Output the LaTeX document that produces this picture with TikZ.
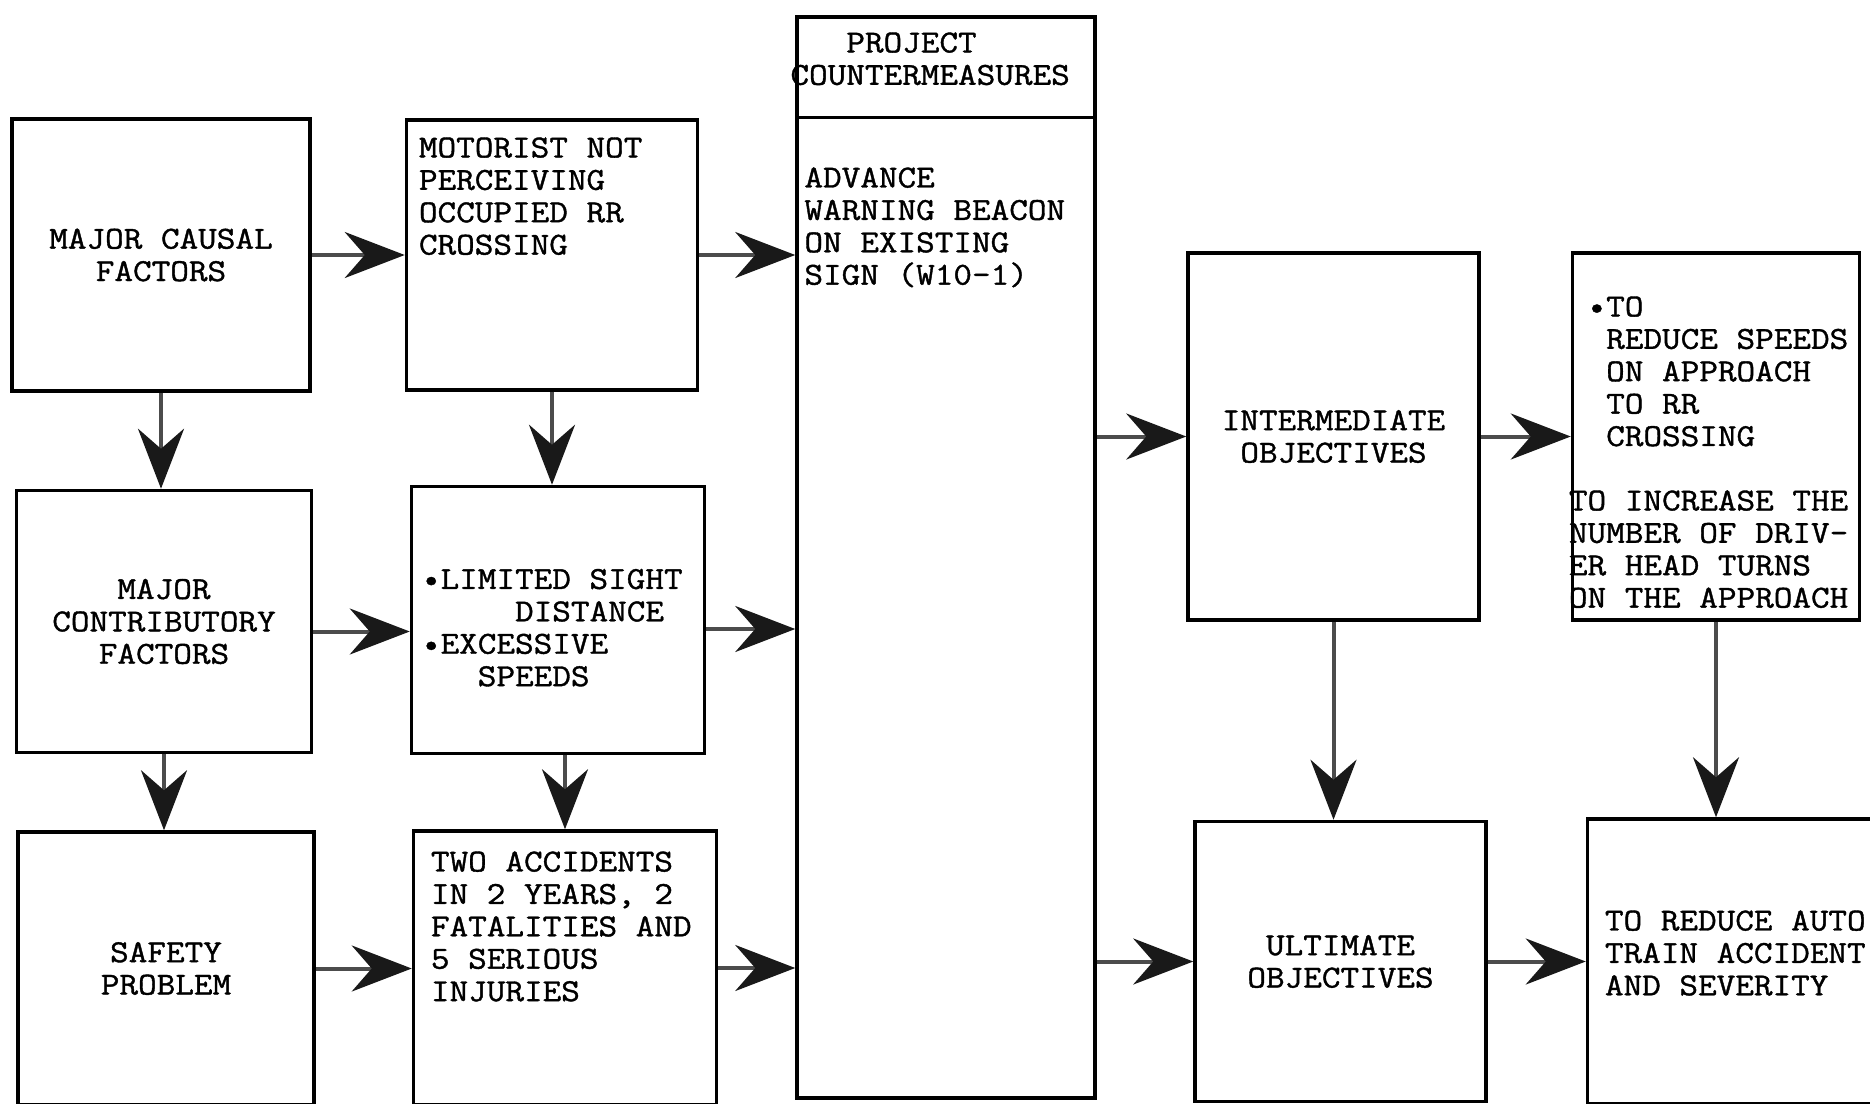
\documentclass[tikz,border=0pt]{standalone}
\usepackage{fontspec}
\newfontfamily\typew[FakeBold=1.2,FakeStretch=1.13]{Latin Modern Mono}
\usetikzlibrary{positioning}
\usetikzlibrary{arrows.meta}
\tikzset{blk/.style={rectangle,draw=black,line width=3.5pt,align=center,inner sep=0pt}}
\tikzset{txt/.style={align=left,inner sep=0pt,anchor=north west}}
\tikzset{arr/.style={draw=black!70,line width=4pt,-{Stealth[length=60pt,width=46pt,inset=20pt,color=black!90]}}}

\begin{document}
\begin{tikzpicture}[x=1pt,y=-1pt,every node/.style={font=\typew\fontsize{32}{32.4}\selectfont}]
            \useasboundingbox (0,0) rectangle (1870,1103);
            \clip (0,0) rectangle (1870,1103);
            % causes and problem
            \node [blk,minimum width=298,minimum height=272] (mcf) at (161,255) {MAJOR CAUSAL\\FACTORS};
            \node [blk,minimum width=295,minimum height=262,below=96pt of mcf,xshift=3pt] (mctf) {MAJOR\\CONTRIBUTORY\\FACTORS};
            \node [blk,minimum width=296,minimum height=273,below=76pt of mctf,xshift=2pt] (safe) {SAFETY\\PROBLEM};
            \node [blk,minimum width=291,minimum height=270,right=93pt of mcf] (motor) {};
            \node [blk,minimum width=293,minimum height=267,below=93pt of motor,xshift=6pt] (sight) {};
            \node [blk,minimum width=303,minimum height=274,below=74pt of sight,xshift=7pt] (acc) {};
            \node [txt] (motort) at ([xshift=14pt,yshift=-19pt]motor.north west) {MOTORIST NOT\\PERCEIVING\\OCCUPIED RR\\CROSSING};
            \node [txt] (sightt) at ([xshift=12pt,yshift=-84pt]sight.north west) {\textbullet LIMITED SIGHT\\\phantom{\textbullet LIMI}DISTANCE\\\textbullet EXCESSIVE\\\phantom{\textbullet EX}SPEEDS};
            \node [txt] (acct) at ([xshift=19pt,yshift=-22pt]acc.north west) {TWO ACCIDENTS\\IN 2 YEARS, 2\\FATALITIES AND\\5 SERIOUS\\INJURIES};
            % countermeasures
            \node [blk,minimum width=298,minimum height=1081] (pcm) at (946,557.5) {};
            \draw [line width=3.5pt] ([yshift=-102pt]pcm.north west) -- ([yshift=-102pt]pcm.north east);
            \node [txt] (pcmh) at ([xshift=-5pt,yshift=-17pt]pcm.north west) {\phantom{PRO}PROJECT\\COUNTERMEASURES};
            \node [txt] (pcmt) at ([xshift=9pt,yshift=-152pt]pcm.north west) {ADVANCE\\WARNING BEACON\\ON EXISTING\\SIGN (W10-1)};
            % objectives
            \node [blk,minimum width=291,minimum height=367] (inter) at (1333.5,436.5) {INTERMEDIATE\\OBJECTIVES};
            \node [blk,minimum width=287,minimum height=367,right=90pt of inter] (speed) {};
            \node [blk,minimum width=291,minimum height=280,below=198pt of inter,xshift=7pt] (ulti) {ULTIMATE\\OBJECTIVES};
            \node [blk,minimum width=311,minimum height=285,right=98pt of ulti] (auto) {};
            \node [txt] (speedt) at ([xshift=-2pt,yshift=-45pt]speed.north west) {\phantom{X}\textbullet TO\\\phantom{XX}REDUCE SPEEDS\\\phantom{XX}ON APPROACH\\\phantom{XX}TO RR\\\phantom{XX}CROSSING\\[32pt]TO INCREASE THE\\NUMBER OF DRIV-\\ER HEAD TURNS\\ON THE APPROACH};
            \node [txt] (autot) at ([xshift=19pt,yshift=-93pt]auto.north west) {TO REDUCE AUTO\\TRAIN ACCIDENT\\AND SEVERITY};
            % arrows
            \draw [arr] (mcf) -- (motor);
            \draw [arr] (motor.east) -- (motor.east -| pcm.west);
            \draw [arr] ([yshift=-10pt]mctf.east) -- ([yshift=-10pt]mctf.east -| sight.west);
            \draw [arr] ([yshift=-9pt]sight.east) -- ([yshift=-9pt]sight.east -| pcm.west);
            \draw [arr] (safe.east) -- (safe.east -| acc.west);
            \draw [arr] (acc.east) -- (acc.east -| pcm.west);
            \draw [arr] (inter.west -| pcm.east) -- (inter.west);
            \draw [arr] (inter) -- (speed);
            \draw [arr] (ulti.west -| pcm.east) -- (ulti.west);
            \draw [arr] (ulti.east) -- (ulti.east -| auto.west);
            \draw [arr] (mcf.south) -- (mcf.south |- mctf.north);
            \draw [arr] (mctf.south) -- (mctf.south |- safe.north);
            \draw [arr] (motor.south) -- (motor.south |- sight.north);
            \draw [arr] (acc.north |- sight.south) -- (acc.north);
            \draw [arr] (inter.south) -- (inter.south |- ulti.north);
            \draw [arr] (speed.south) -- (speed.south |- auto.north);
        \end{tikzpicture}
\end{document}
